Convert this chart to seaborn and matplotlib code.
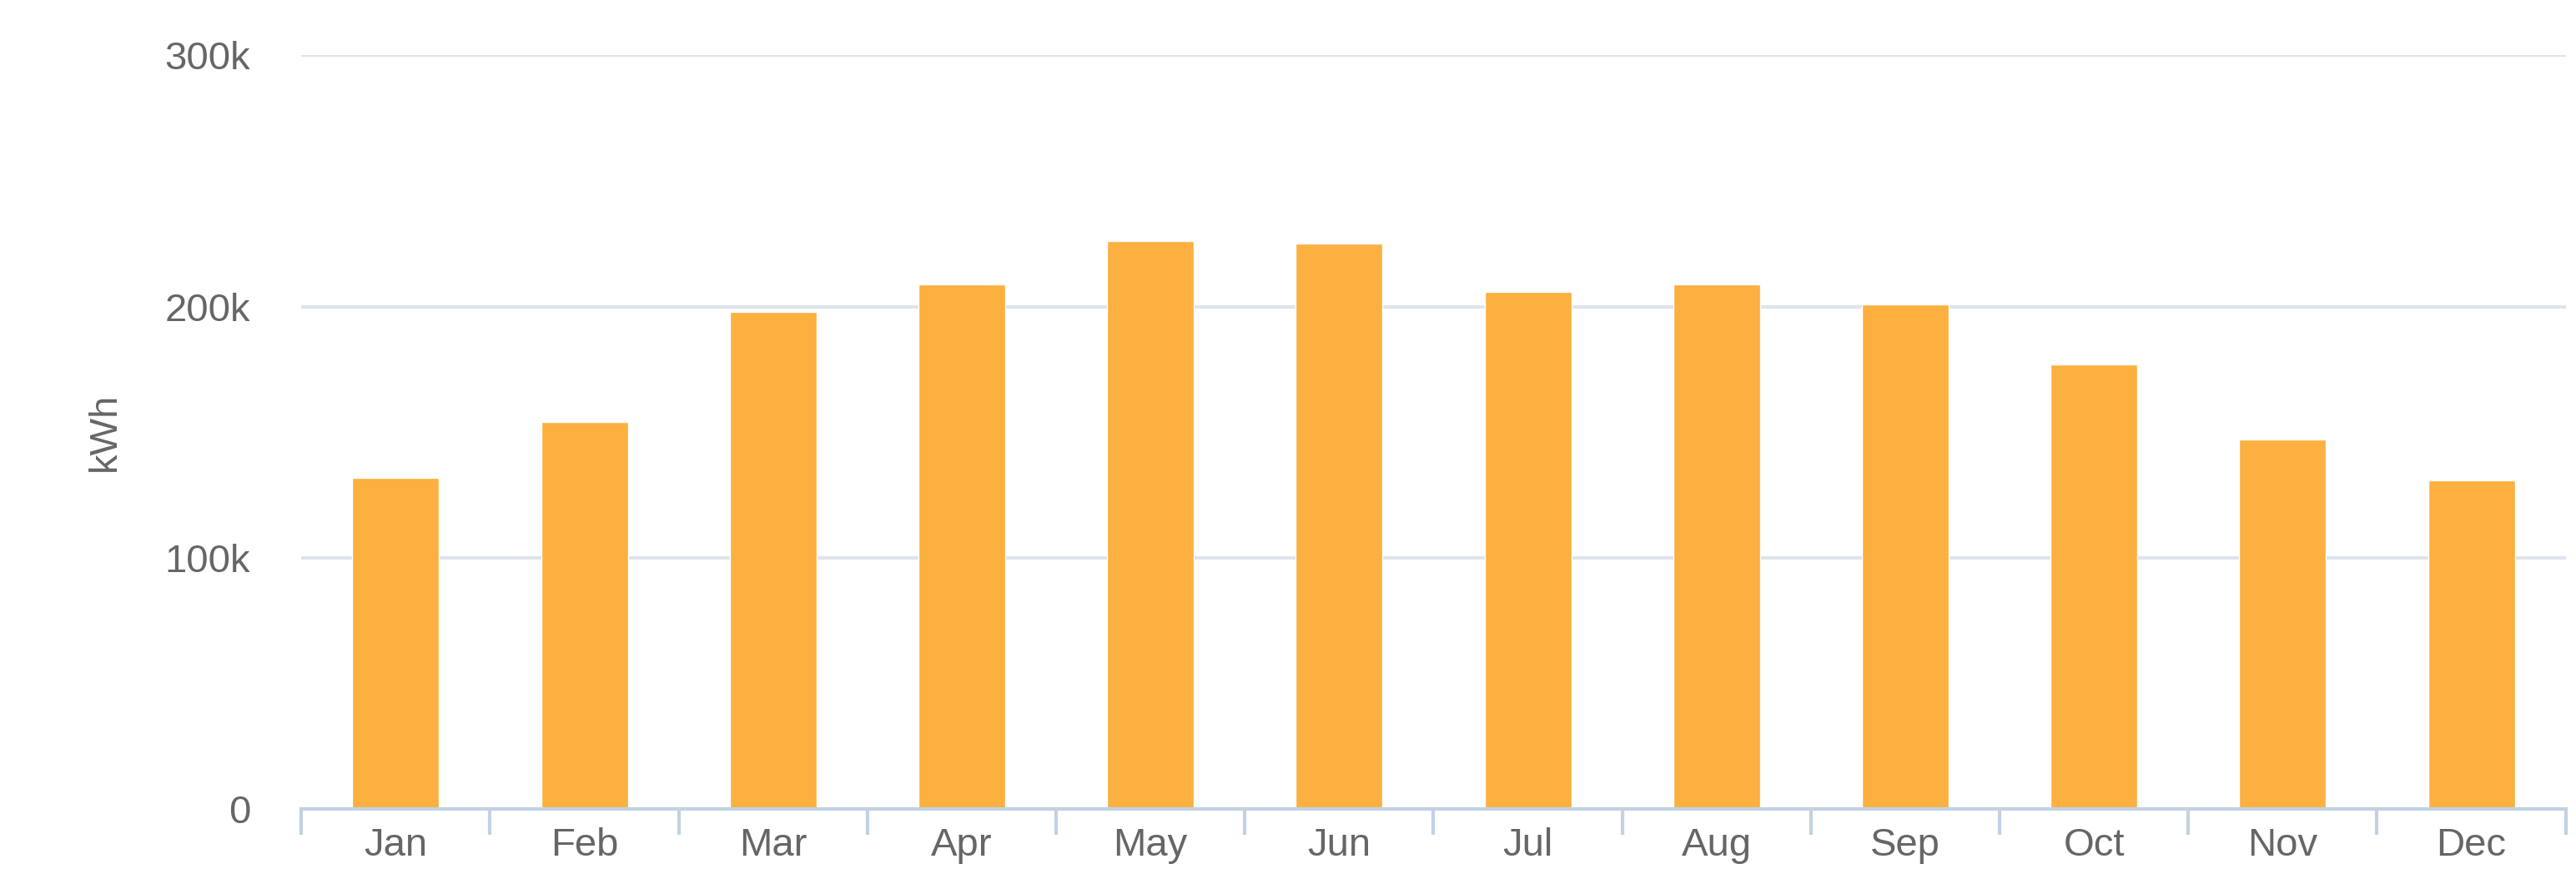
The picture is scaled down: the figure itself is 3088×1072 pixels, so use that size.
import matplotlib
matplotlib.use("Agg")
import matplotlib.pyplot as plt
import seaborn as sns
import numpy as np
import pandas as pd

months = ["Jan", "Feb", "Mar", "Apr", "May", "Jun", "Jul", "Aug", "Sep", "Oct", "Nov", "Dec"]
energy_kwh = [132000, 154000, 198000, 209000, 226000, 225000, 206000, 209000, 201000, 177000, 147000, 131000]

df = pd.DataFrame({"month": months, "kwh": energy_kwh})

sns.set_theme(style="white")
plt.rcParams['font.family'] = ['Liberation Sans', 'DejaVu Sans']

fig = plt.figure(figsize=(30.88, 10.72), dpi=100)
ax = fig.add_axes([0.117, 0.095, 0.879, 0.843])

sns.barplot(data=df, x="month", y="kwh", color="#fbb040", width=0.46, ax=ax, saturation=1)

ax.set_ylim(0, 300000)
ax.set_xlim(-0.5, 11.5)
ax.set_yticks([0, 100000, 200000, 300000])
ax.set_yticklabels(["0", "100k", "200k", "300k"])
ax.yaxis.grid(True, color="#dfe4ec", linewidth=3)
ax.set_axisbelow(True)

for s in ["top", "right", "left"]:
    ax.spines[s].set_visible(False)
ax.spines["bottom"].set_color("#c2d2e4")
ax.spines["bottom"].set_linewidth(3)

ax.set_xticks(np.arange(-0.5, 12, 1), minor=True)
ax.tick_params(axis="x", which="minor", direction="out", length=22, width=3, color="#c2d2e4", bottom=True)
ax.tick_params(axis="x", which="major", length=0, labelsize=34, labelcolor="#666666", pad=16)
ax.tick_params(axis="y", length=0, labelsize=34, labelcolor="#666666", pad=44)

ax.set_xlabel("")
ax.set_ylabel("kWh", fontsize=34, color="#666666", labelpad=36)

fig.savefig("out.png", dpi=100, facecolor="white")
